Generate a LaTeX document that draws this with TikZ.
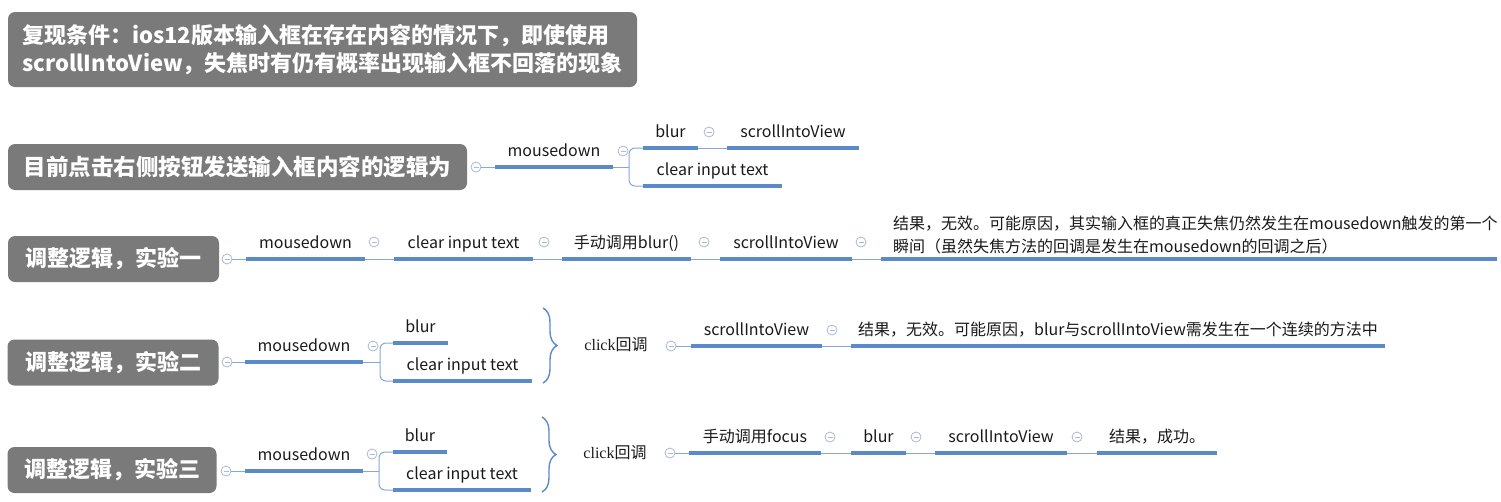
\documentclass[tikz,border=0pt]{standalone}
\usepackage{fontspec}
\setmainfont{Noto Sans CJK SC}
\newfontfamily\serifl{Liberation Serif}
\usetikzlibrary{decorations.pathreplacing}
\definecolor{boxgray}{HTML}{7A7A7A}
\definecolor{thickblue}{HTML}{5B8AC9}
\definecolor{thinblue}{HTML}{86A8D8}
\definecolor{foldc}{HTML}{A9BAD4}
\definecolor{txt}{HTML}{1A1A1A}
\begin{document}
\begin{tikzpicture}[x=1pt,y=-1pt,
  gbox/.style={fill=boxgray, rounded corners=7pt, text=white, inner sep=0pt, align=left},
  boldf/.style={font=\fontsize{22}{28}\selectfont\bfseries},
  topic/.style={anchor=south, inner sep=0pt, minimum height=30pt, text height=12pt, text depth=3pt, font=\fontsize{16}{20}\selectfont, text=txt},
  uline/.style={draw=thickblue, line width=3.3pt},
  conn/.style={draw=thinblue, line width=1pt},
  bracebl/.style={draw=thickblue, line width=1.4pt, decorate, decoration={brace, amplitude=14pt}},
  fold/.style={circle, draw=foldc, fill=white, line width=0.8pt, minimum size=10pt, inner sep=0pt,
    path picture={\draw[foldc, line width=0.8pt] ([xshift=-2.5pt]path picture bounding box.center) -- ([xshift=2.5pt]path picture bounding box.center);}},
]
\useasboundingbox (0,0) rectangle (1501,501);
\fill[white] (0,0) rectangle (1501,501);

% gray boxes
\node[gbox, boldf, minimum width=629pt, minimum height=75pt] (g1) at (322.5,49.5)
  {复现条件：ios12版本输入框在存在内容的情况下，即使使用\\scrollIntoView，失焦时有仍有概率出现输入框不回落的现象};
\node[gbox, font=\fontsize{22.5}{28}\selectfont\bfseries, minimum width=459pt, minimum height=46pt] (g2) at (237.5,167) {目前点击右侧按钮发送输入框内容的逻辑为};
\node[gbox, boldf, minimum width=211pt, minimum height=46pt] (g3) at (113.5,259) {调整逻辑，实验一};
\node[gbox, boldf, minimum width=211pt, minimum height=46pt] (g4) at (113,362.5) {调整逻辑，实验二};
\node[gbox, boldf, minimum width=209pt, minimum height=46pt] (g5) at (112,470) {调整逻辑，实验三};

% row 2
\node[topic, minimum width=118pt] (m2) at (554,167) {mousedown};
\node[topic, minimum width=55pt] (b2) at (670.5,148) {blur};
\node[topic, minimum width=132pt] (s2) at (793,148) {scrollIntoView};
\node[topic, minimum width=139pt] (c2) at (712.5,186) {clear input text};
\coordinate (j2) at (629,167);

% row 3
\node[topic, minimum width=119pt] (m3) at (305.5,259) {mousedown};
\node[topic, minimum width=139pt] (c3) at (463.5,259) {clear input text};
\node[topic, minimum width=129pt] (h3) at (626.5,259) {手动调用blur()};
\node[topic, minimum width=132pt] (s3) at (786,259) {scrollIntoView};
\node[anchor=south, inner xsep=12pt, inner ysep=5pt, text width=592pt, align=left,
  font=\fontsize{16}{23}\selectfont, text=txt] (r3) at (1189,259)
  {结果，无效。可能原因，其实输入框的真正失焦仍然发生在mousedown触发的第一个\\瞬间（虽然失焦方法的回调是发生在mousedown的回调之后）};

% row 4
\node[topic, minimum width=118pt] (m4) at (304,362) {mousedown};
\node[topic, minimum width=55pt] (b4) at (420.5,343) {blur};
\node[topic, minimum width=139pt] (c4) at (462.5,381) {clear input text};
\coordinate (j4) at (380,362);
\coordinate (br4t) at (543,308);
\coordinate (br4b) at (543,383);
\node[text=txt, font=\fontsize{16}{20}\selectfont, inner sep=0pt] (k4) at (616,345) {{\serifl click}回调};
\node[topic, minimum width=131pt] (s4) at (756.5,346) {scrollIntoView};
\node[topic, minimum width=534pt] (r4) at (1118,346) {结果，无效。可能原因，blur与scrollIntoView需发生在一个连续的方法中};

% row 5
\node[topic, minimum width=118pt] (m5) at (304,471) {mousedown};
\node[topic, minimum width=54pt] (b5) at (420,452) {blur};
\node[topic, minimum width=138pt] (c5) at (462,490) {clear input text};
\coordinate (j5) at (379,471);
\coordinate (br5t) at (542,417);
\coordinate (br5b) at (542,492);
\node[text=txt, font=\fontsize{16}{20}\selectfont, inner sep=0pt] (k5) at (615,453) {{\serifl click}回调};
\node[topic, minimum width=132pt] (f5) at (755,453) {手动调用focus};
\node[topic, minimum width=55pt] (l5) at (878.5,453) {blur};
\node[topic, minimum width=132pt] (s5) at (1001,453) {scrollIntoView};
\node[topic, minimum width=120pt] (r5) at (1157,453) {结果，成功。};

% fold markers
\node[fold] (f2a) at (476,167) {};
\node[fold] (f2b) at (623,151) {};
\node[fold] (f2c) at (709,132) {};
\node[fold] (f3a) at (227,259) {};
\node[fold] (f3b) at (374,242) {};
\node[fold] (f3c) at (544,242) {};
\node[fold] (f3d) at (704,242) {};
\node[fold] (f3e) at (861,242) {};
\node[fold] (f4a) at (227,362) {};
\node[fold] (f4b) at (373,346) {};
\node[fold] (f4c) at (671,346) {};
\node[fold] (f4d) at (832,330) {};
\node[fold] (f5a) at (226,471) {};
\node[fold] (f5b) at (372,454) {};
\node[fold] (f5c) at (670,453) {};
\node[fold] (f5d) at (830,437) {};
\node[fold] (f5e) at (916,437) {};
\node[fold] (f5f) at (1077,437) {};

% thin connectors
\draw[conn] (f2a.east) -- (m2.south west);
\draw[conn] (m2.south east) -- (j2);
\draw[conn, rounded corners=6pt] (b2.south west) -| (j2) |- (c2.south west);
\draw[conn] (b2.south east) -- (s2.south west);

\draw[conn] (f3a.east) -- (m3.south west);
\draw[conn] (m3.south east) -- (c3.south west);
\draw[conn] (c3.south east) -- (h3.south west);
\draw[conn] (h3.south east) -- (s3.south west);
\draw[conn] (s3.south east) -- (r3.south west);

\draw[conn] (f4a.east) -- (m4.south west);
\draw[conn] (m4.south east) -- (j4);
\draw[conn, rounded corners=6pt] (b4.south west) -| (j4) |- (c4.south west);
\draw[bracebl] (br4t) -- (br4b);
\draw[conn] (f4c.east) -- (s4.south west);
\draw[conn] (s4.south east) -- (r4.south west);

\draw[conn] (f5a.east) -- (m5.south west);
\draw[conn] (m5.south east) -- (j5);
\draw[conn, rounded corners=6pt] (b5.south west) -| (j5) |- (c5.south west);
\draw[bracebl] (br5t) -- (br5b);
\draw[conn] (f5c.east) -- (f5.south west);
\draw[conn] (f5.south east) -- (l5.south west);
\draw[conn] (l5.south east) -- (s5.south west);
\draw[conn] (s5.south east) -- (r5.south west);

% thick underlines
\foreach \n in {m2,b2,s2,c2,m3,c3,h3,s3,r3,m4,b4,c4,s4,r4,m5,b5,c5,f5,l5,s5,r5}
  \draw[uline] (\n.south west) -- (\n.south east);
\end{tikzpicture}
\end{document}
